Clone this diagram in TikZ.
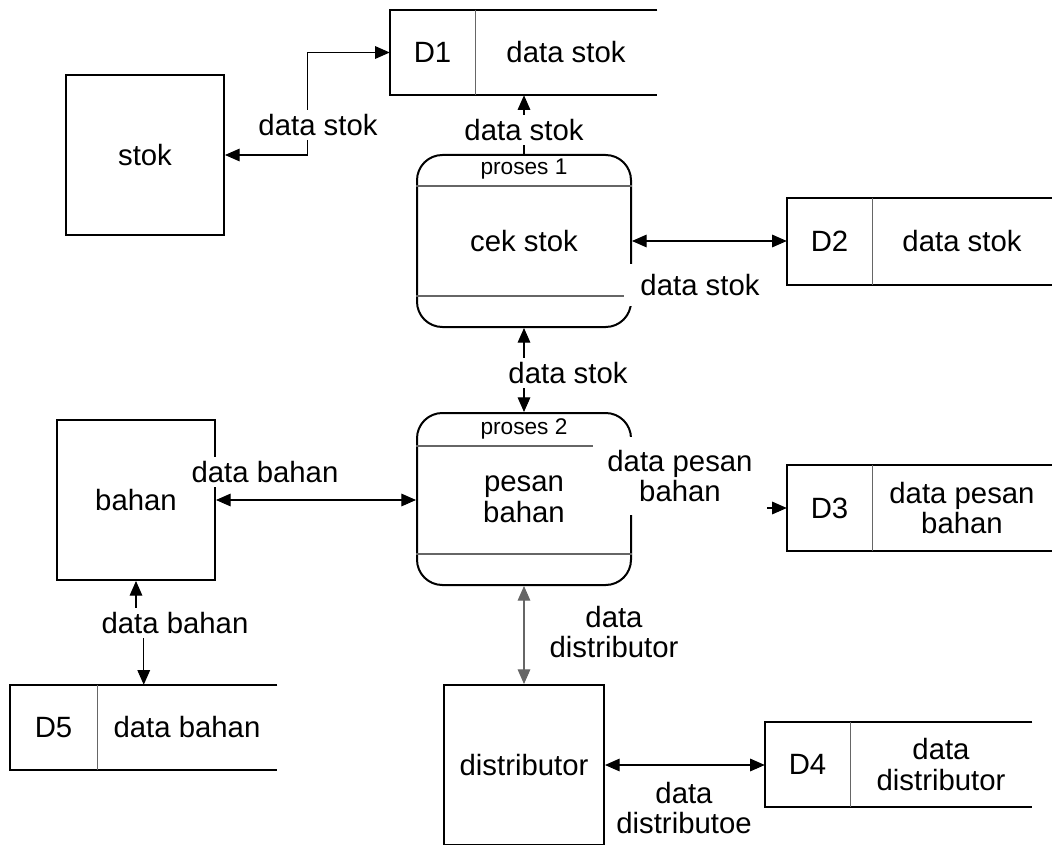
\documentclass[tikz,border=0pt]{standalone}
\usepackage{fontspec}
\setmainfont{Liberation Sans}
\usetikzlibrary{arrows.meta,calc}
\begin{document}
\begin{tikzpicture}[x=0.75pt,y=-0.75pt,
  every node/.style={font=\fontsize{22}{23}\selectfont},
  entity/.style={draw, line width=1.5pt, inner sep=0pt, align=center},
  procbox/.style={draw, line width=1.5pt, rounded corners=19pt, minimum width=160.5pt, minimum height=129pt, inner sep=0pt, align=center},
  storeid/.style={minimum width=63.75pt, inner sep=0pt},
  storetxt/.style={minimum width=135pt, inner sep=0pt, align=center},
  storeline/.style={line width=1.5pt},
  flow/.style={line width=0.8pt, {Triangle[length=11pt,width=9.5pt]}-{Triangle[length=11pt,width=9.5pt]}},
  flowto/.style={line width=0.8pt, -{Triangle[length=11pt,width=9.5pt]}},
  lbl/.style={fill=white, inner sep=3pt, align=center},
  divider/.style={line width=0.8pt, draw=black!60},
  smalltxt/.style={font=\fontsize{17}{19}\selectfont}
]
\useasboundingbox (0,0) rectangle (1052,845);

% external entities
\node[entity, minimum width=118.5pt, minimum height=120pt] (stok) at (145,155) {stok};
\node[entity, minimum width=118.5pt, minimum height=120pt] (bahan) at (136,500) {bahan};
\node[entity, minimum width=120pt, minimum height=120pt] (dist) at (524,765) {distributor};

% processes
\node[procbox] (p1) at (524,241) {cek stok};
\draw[divider] ($(p1.north west)+(0,32)$) -- ($(p1.north east)+(0,32)$);
\draw[divider] ($(p1.south west)+(0,-32)$) -- ($(p1.south east)+(0,-32)$);
\node[smalltxt] (p1n) at ($(p1.north)+(0,15)$) {proses 1};

\node[procbox] (p2) at (524,499) {pesan\\bahan};
\draw[divider] ($(p2.north west)+(0,34)$) -- ($(p2.north east)+(0,34)$);
\draw[divider] ($(p2.south west)+(0,-32)$) -- ($(p2.south east)+(0,-32)$);
\node[smalltxt] (p2n) at ($(p2.north)+(0,17)$) {proses 2};

% data stores
\node[storeid, minimum height=63.75pt] (d1id) at (432.5,52.5) {D1};
\node[storetxt, minimum width=136.5pt, minimum height=63.75pt] (d1txt) at (566,52.5) {data stok};
\node[storeid, minimum height=65.25pt] (d2id) at (829.5,241.5) {D2};
\node[storetxt, minimum height=65.25pt] (d2txt) at (962,241.5) {data stok};
\node[storeid, minimum height=64.5pt] (d3id) at (829.5,508) {D3};
\node[storetxt, minimum height=64.5pt] (d3txt) at (962,508) {data pesan\\bahan};
\node[storeid, minimum height=63.75pt] (d4id) at (807.5,764.5) {D4};
\node[storetxt, minimum width=136.5pt, minimum height=63.75pt] (d4txt) at (941,764.5) {data\\distributor};
\node[storeid, minimum width=65.25pt, minimum height=63.75pt] (d5id) at (53.5,727.5) {D5};
\node[storetxt, minimum height=63.75pt] (d5txt) at (187,727.5) {data bahan};

\foreach \s in {d1,d2,d3,d4,d5}{
  \draw[storeline] (\s txt.north east) -- (\s id.north west) -- (\s id.south west) -- (\s txt.south east);
  \draw[divider] (\s id.north east) -- (\s id.south east);
}

% data flows
\draw[flow] (stok.east) -| ($(d1id.west)+(-82,0)$) -- (d1id.west);
\draw[flowto] (p1.north) -- (p1.north |- d1txt.south);
\draw[flow] (p1.east) -- (p1.east -| d2id.west);
\draw[flow] (p1.south) -- (p2.north);
\draw[flow] (bahan.east) -- (bahan.east -| p2.west);
\draw[flowto] (p2.east |- d3id.west) -- (d3id.west);
\draw[flow, draw=black!60] (p2.south) -- (dist.north);
\draw[flow] (dist.east) -- (dist.east -| d4id.west);
\draw[flow] (bahan.south) -- ++(0,40) -| ($(d5txt.north west)+(47,0)$);

% flow labels
\node[lbl] (l1) at (318,125) {data stok};
\node[lbl] (l2) at (524,130) {data stok};
\node[lbl, inner xsep=12pt, inner ysep=8pt] (l3) at (700,285) {data stok};
\node[lbl] (l4) at (568,373) {data stok};
\node[lbl] (l5) at (265,472) {data bahan};
\node[lbl, inner xsep=11pt, inner ysep=10pt] (l6) at (680,476) {data pesan\\bahan};
\node[lbl] (l7) at (614,632) {data\\distributor};
\node[lbl] (l8) at (684,808) {data\\distributoe};
\node[lbl] (l9) at (175,623) {data bahan};
\end{tikzpicture}
\end{document}
